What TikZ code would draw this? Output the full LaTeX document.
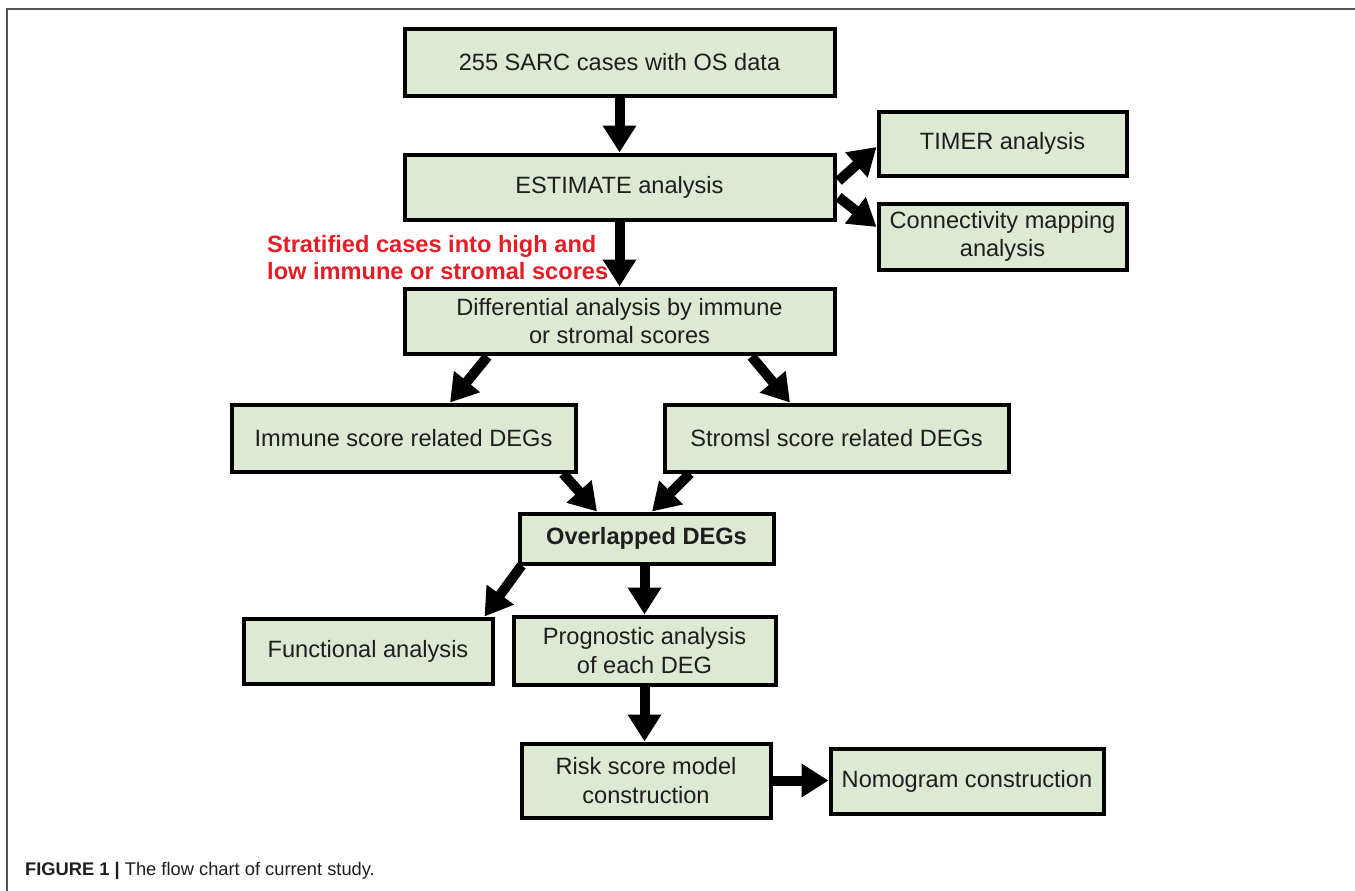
\documentclass[tikz,border=0pt]{standalone}
\usepackage{fontspec}
\setmainfont{Liberation Sans}
\usetikzlibrary{arrows.meta,calc}
\definecolor{boxfill}{RGB}{221,233,210}
\definecolor{redtxt}{RGB}{228,30,38}
\definecolor{framegray}{RGB}{85,85,85}
\definecolor{txtcol}{RGB}{30,30,30}
\begin{document}
\begin{tikzpicture}[x=1pt,y=-1pt,
  box/.style={draw=black,line width=4pt,fill=boxfill,align=center,inner sep=0pt,
    text=txtcol,font=\fontsize{23.6}{28.5}\selectfont},
  bigarrow/.style={draw=black,line width=10pt,-{Triangle[width=32pt,length=27pt]}},
  frameline/.style={draw=framegray,line width=2.5pt},
]
\useasboundingbox (0,0) rectangle (1355,891);
\fill[white] (0,0) rectangle (1355,891);
\draw[frameline] (7,891) -- (7,9) -- (1355,9);

\node[box,minimum width=430pt,minimum height=66pt] (b1) at (619.5,62.5) {255 SARC cases with OS data};
\node[box,minimum width=430pt,minimum height=65pt] (est) at (619.5,187) {ESTIMATE analysis};
\node[box,minimum width=248pt,minimum height=64pt] (timer) at (1002.5,143.5) {TIMER analysis};
\node[box,minimum width=248pt,minimum height=66pt] (cmap) at (1002.5,236.5) {Connectivity mapping\\analysis};
\node[box,minimum width=430pt,minimum height=65pt] (diff) at (619.5,321) {Differential analysis by immune\\or stromal scores};
\node[box,minimum width=344pt,minimum height=67pt] (imm) at (403.5,438) {Immune score related DEGs};
\node[box,minimum width=344pt,minimum height=67pt] (str) at (836.5,438) {Stromsl score related DEGs};
\node[box,minimum width=254pt,minimum height=50pt,font=\bfseries\fontsize{23.6}{28.5}\selectfont] (ov) at (646.5,538.5) {Overlapped DEGs};
\node[box,minimum width=249pt,minimum height=65pt] (fun) at (368,651) {Functional analysis};
\node[box,minimum width=262pt,minimum height=68pt] (prog) at (644.5,650.5) {Prognostic analysis\\of each DEG};
\node[box,minimum width=249pt,minimum height=74pt] (risk) at (646,780.5) {Risk score model\\construction};
\node[box,minimum width=273pt,minimum height=65pt] (nom) at (967,781) {Nomogram construction};

\node[anchor=north west,inner sep=0pt,align=left,text=redtxt,
  font=\bfseries\fontsize{23.6}{27}\selectfont] (strat) at (267,235)
  {Stratified cases into high and\\low immune or stromal scores};

\draw[bigarrow] (b1.south) -- (est.north);
\draw[bigarrow] (est.south) -- (diff.north);
\draw[bigarrow] ($(est.east)+(2,-6)$) -- ($(timer.west)+(0,3.5)$);
\draw[bigarrow] ($(est.east)+(2,10)$) -- ($(cmap.west)+(0,-9.5)$);
\draw[bigarrow] ($(diff.south)+(-132,1)$) -- ($(imm.north)+(46.5,0)$);
\draw[bigarrow] ($(diff.south)+(132,1)$) -- ($(str.north)+(-46.5,0)$);
\draw[bigarrow] ($(imm.south)+(159.5,0)$) -- ($(ov.north)+(-49.5,0)$);
\draw[bigarrow] ($(str.south)+(-146.5,0)$) -- ($(ov.north)+(5.5,0)$);
\draw[bigarrow] ($(ov.south west)+(4,0)$) -- ($(fun.north east)+(-10,0)$);
\draw[bigarrow] (prog.north |- ov.south) -- (prog.north);
\draw[bigarrow] (prog.south) -- (prog.south |- risk.north);
\draw[bigarrow] (risk.east) -- (risk.east -| nom.west);

\node[anchor=base west,inner sep=0pt,text=txtcol,font=\fontsize{18.3}{22}\selectfont] (cap) at (25,875)
  {\textbf{FIGURE 1 |} The flow chart of current study.};
\end{tikzpicture}
\end{document}
